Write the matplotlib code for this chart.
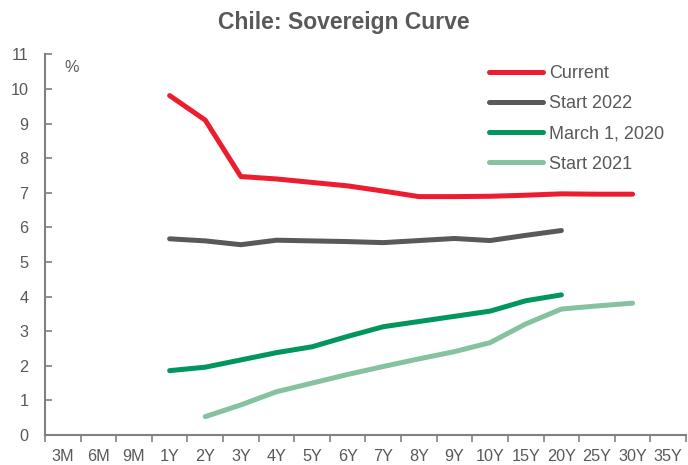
import numpy as np
import matplotlib
matplotlib.use("Agg")
import matplotlib.pyplot as plt
from matplotlib import font_manager

# tenors on the category axis
tenors = ["3M", "6M", "9M", "1Y", "2Y", "3Y", "4Y", "5Y", "6Y", "7Y",
          "8Y", "9Y", "10Y", "15Y", "20Y", "25Y", "30Y", "35Y"]

nan = np.nan
current = [nan, nan, nan, 9.81, 9.10, 7.47, 7.40, 7.30, 7.20, 7.05,
           6.89, 6.89, 6.90, 6.93, 6.97, 6.96, 6.96, nan]
start_2022 = [nan, nan, nan, 5.67, 5.61, 5.50, 5.63, 5.61, 5.59, 5.56,
              5.62, 5.68, 5.62, 5.77, 5.91, nan, nan, nan]
march_2020 = [nan, nan, nan, 1.86, 1.96, 2.17, 2.38, 2.55, 2.85, 3.13,
              3.28, 3.43, 3.58, 3.88, 4.05, nan, nan, nan]
start_2021 = [nan, nan, nan, nan, 0.53, 0.87, 1.25, 1.50, 1.75, 1.98,
              2.20, 2.41, 2.67, 3.21, 3.64, 3.73, 3.81, nan]

series = [
    ("Current", current, "#ED1C2E"),
    ("Start 2022", start_2022, "#595959"),
    ("March 1, 2020", march_2020, "#00965E"),
    ("Start 2021", start_2021, "#86C29F"),
]

names = [f.name for f in font_manager.fontManager.ttflist]
fam = "Liberation Sans Narrow" if "Liberation Sans Narrow" in names else "Liberation Sans"
plt.rcParams["font.family"] = [fam, "DejaVu Sans"]
txt = "#595959"

fig = plt.figure(figsize=(6.88, 4.65), dpi=100)
ax = fig.add_axes([45 / 688, 1 - 435 / 465, (686 - 45) / 688, (435 - 54.4) / 465])

x = np.arange(len(tenors))
for name, vals, col in series:
    ax.plot(x, vals, color=col, lw=3.6, solid_capstyle="round",
            solid_joinstyle="round", label=name)

ax.set_xlim(-0.5, len(tenors) - 0.5)
ax.set_ylim(0, 11)
ax.set_yticks(range(0, 12))
ax.set_xticks(x)
ax.set_xticklabels(tenors)
ax.set_xticks(np.arange(-0.5, len(tenors)), minor=True)

ax.tick_params(axis="x", which="major", length=0, pad=10, labelsize=11.7, labelcolor=txt)
ax.tick_params(axis="x", which="minor", length=5, width=1.2, color="#808080", direction="out")
ax.tick_params(axis="y", length=5, width=1.2, color="#808080", direction="in",
               pad=12, labelsize=11.7, labelcolor=txt)

for s in ["top", "right"]:
    ax.spines[s].set_visible(False)
for s in ["left", "bottom"]:
    ax.spines[s].set_color("#808080")
    ax.spines[s].set_linewidth(1.5)

ax.text(0.031, 0.985, "%", transform=ax.transAxes, fontsize=11.7, color=txt, va="top")

fig.text(0.5, 1 - 22 / 465, "Chile: Sovereign Curve", ha="center", va="center",
         fontsize=16.5, fontweight="bold", color=txt)

leg = ax.legend(loc="upper right", bbox_to_anchor=(664 / 688, 1 - 65 / 465),
                bbox_transform=fig.transFigure, frameon=False,
                fontsize=13, handlelength=3.0, handletextpad=0.3,
                labelspacing=0.73, borderpad=0, borderaxespad=0,
                labelcolor=txt)

fig.savefig("out.png", dpi=100)
